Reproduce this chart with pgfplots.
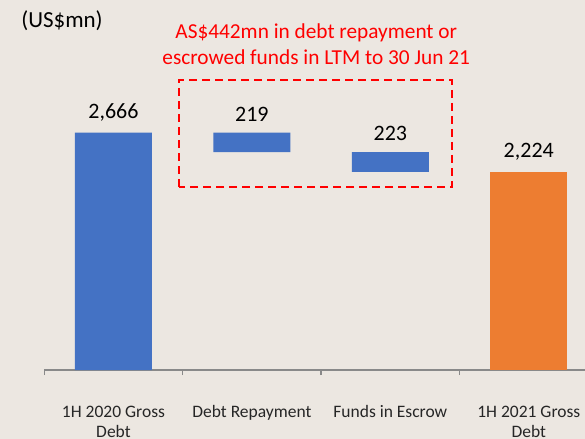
\documentclass[border=0pt]{standalone}
\usepackage{fontspec}
\setmainfont{Carlito}
\usepackage{pgfplots}
\pgfplotsset{compat=1.18}
\definecolor{bgcol}{RGB}{236,231,225}
\definecolor{barblue}{RGB}{68,114,196}
\definecolor{barorange}{RGB}{237,125,49}
\definecolor{axisgray}{RGB}{137,137,137}

\begin{document}
\begin{tikzpicture}
\fill[bgcol] (-44.25bp,-69bp) rectangle (540.75bp,370bp);
\begin{axis}[
  scale only axis, width=553.75bp, height=356.3bp,
  xmin=-0.5, xmax=3.5, ymin=0, ymax=4000,
  ybar stacked, bar width=77bp,
  axis x line=bottom, axis y line=none,
  x axis line style={-, draw=axisgray, line width=1.5bp},
  xtick={0,1,2,3},
  xticklabels={1H 2020 Gross\\Debt, Debt Repayment, Funds in Escrow, 1H 2021 Gross\\Debt},
  major x tick style={draw=none},
  minor xtick={-0.5,0.5,1.5,2.5,3.5},
  minor tick length=5bp,
  minor x tick style={draw=axisgray, line width=1.5bp},
  tick align=outside,
  xticklabel style={align=center, text=black!85, font=\fontsize{17.5bp}{20bp}\selectfont, yshift=-28bp},
]
% invisible base of the floating bars
\addplot[fill=none, draw=none] coordinates {(0,0) (1,2447) (2,2224) (3,0)};
% blue bars
\addplot[fill=barblue, draw=none] coordinates {(0,2666) (1,219) (2,223) (3,0)};
% orange bar
\addplot[fill=barorange, draw=none] coordinates {(0,0) (1,0) (2,0) (3,2224)};
\end{axis}
% value labels at the bar tops
\begin{axis}[
  scale only axis, width=553.75bp, height=356.3bp,
  xmin=-0.5, xmax=3.5, ymin=0, ymax=4000, hide axis,
]
\addplot[only marks, mark=none, nodes near coords, point meta=explicit symbolic,
  nodes near coords style={font=\fontsize{22bp}{24bp}\selectfont, text=black, anchor=south, yshift=8bp}]
  coordinates {(0,2666) [{2,666}] (1,2666) [219] (2,2447) [223] (3,2224) [{2,224}]};
\end{axis}
\node[font=\fontsize{23bp}{26bp}\selectfont] at (17.75bp,349bp) {(US\$mn)};
\node[text=red, align=center, font=\fontsize{21.3bp}{26bp}\selectfont] at (272bp,326bp)
  {AS\$442mn in debt repayment or\\escrowed funds in LTM to 30 Jun 21};
\draw[red, line width=2.5bp, dash pattern=on 8bp off 5bp] (134.75bp,183bp) rectangle (407.75bp,290bp);
\pgfresetboundingbox
\useasboundingbox (-44.25bp,-69bp) rectangle (540.75bp,370bp);
\end{tikzpicture}
\end{document}
